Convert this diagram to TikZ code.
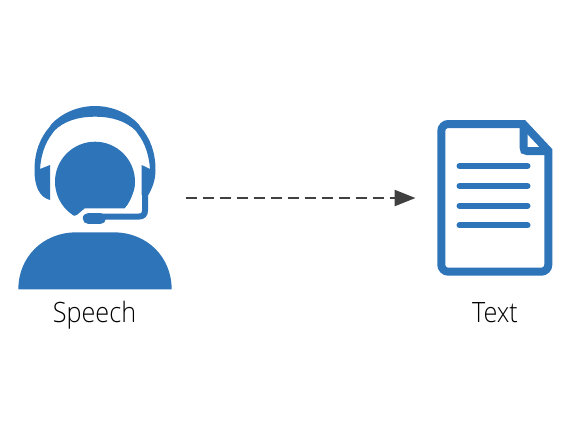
\documentclass[tikz,border=0pt]{standalone}
\usepackage{fontspec}
\setmainfont{Open Sans Light}[FakeStretch=0.9]
\usepackage{tikz}
\usetikzlibrary{arrows.meta}
\usepackage{xcolor}
\definecolor{iconblue}{RGB}{46,116,184}
\definecolor{arrowgray}{RGB}{64,64,64}
\tikzset{
  caption/.style={font=\fontsize{14}{16}\selectfont,text=black,anchor=base,inner sep=0pt},
  docline/.style={iconblue,line width=3pt,line cap=round},
}
\begin{document}
\begin{tikzpicture}[x=0.5pt,y=-0.5pt]
\useasboundingbox (0,0) rectangle (582,436);
% Left: person with headset
\begin{scope}
\fill[iconblue] (18.3,289.3) .. controls (18.3,258) and (42,232.3) .. (76.7,232.3)
  -- (113.3,232.3) .. controls (148,232.3) and (171.7,258) .. (171.7,289.3) -- cycle;
\fill[iconblue] (95,181.7) circle (40);
\fill[white] (72,216.5) -- (77,215) -- (85,208.3) -- (125,208.3) .. controls (129,204) and (132,197) .. (134.5,189)
  -- (139,228) -- (72,228) -- cycle;
% band and ear cups
\fill[iconblue] (50,200) .. controls (39,197) and (34.5,186) .. (34.5,170)
  .. controls (34.5,152) and (40,138) .. (49.5,127) -- (51.5,124)
  .. controls (62,113) and (78,106) .. (95,106)
  .. controls (112,106) and (128,113) .. (138.5,124) -- (140.5,127)
  .. controls (150,138) and (155.5,152) .. (155.5,170)
  .. controls (155.5,182) and (151,190) .. (148.3,195) -- (141.7,195) -- (141.7,165) -- (150,169)
  .. controls (149,155) and (145,143) .. (138,134) -- (136,131)
  .. controls (126,121) and (112,116.7) .. (95,116.7)
  .. controls (78,116.7) and (64,121) .. (54,131) -- (52,134)
  .. controls (45,143) and (41,155) .. (40,169) -- (50,165) -- cycle;
% microphone
\draw[iconblue,line width=3pt] (145,193) -- (145,210) .. controls (145,214.5) and (143,216.5) .. (139,216.5) -- (100,216.5);
\draw[iconblue,line width=5.65pt,line cap=round] (88.4,218.4) -- (100.3,218.4);
\end{scope}
% Right: document
\begin{scope}
\draw[iconblue,line width=4pt,rounded corners=3.5pt]
  (480,124) -- (441.3,124) -- (441.3,271.7) -- (548.3,271.7) [sharp corners] -- (548.3,150.7) -- (523.3,124) -- cycle;
\draw[iconblue,line width=4pt] (523.5,124) -- (523.5,147) .. controls (523.5,150) and (524.5,151) .. (527,151) -- (546,151);
\foreach \y in {166,186,205.7,225.3}{
\draw[docline] (459.5,\y) -- (527.5,\y);
}
\end{scope}
% labels
\node[caption] (speech) at (94.5,322) {Speech};
\node[caption] (text) at (495,322) {Text};
\coordinate (from) at (185.7,198);
\coordinate (to) at (415.5,198);
\draw[arrowgray,line width=1.2pt,dash pattern=on 5.5pt off 3pt,-{Triangle[length=10.5pt,width=8pt]}] (from) -- (to);
\end{tikzpicture}
\end{document}
